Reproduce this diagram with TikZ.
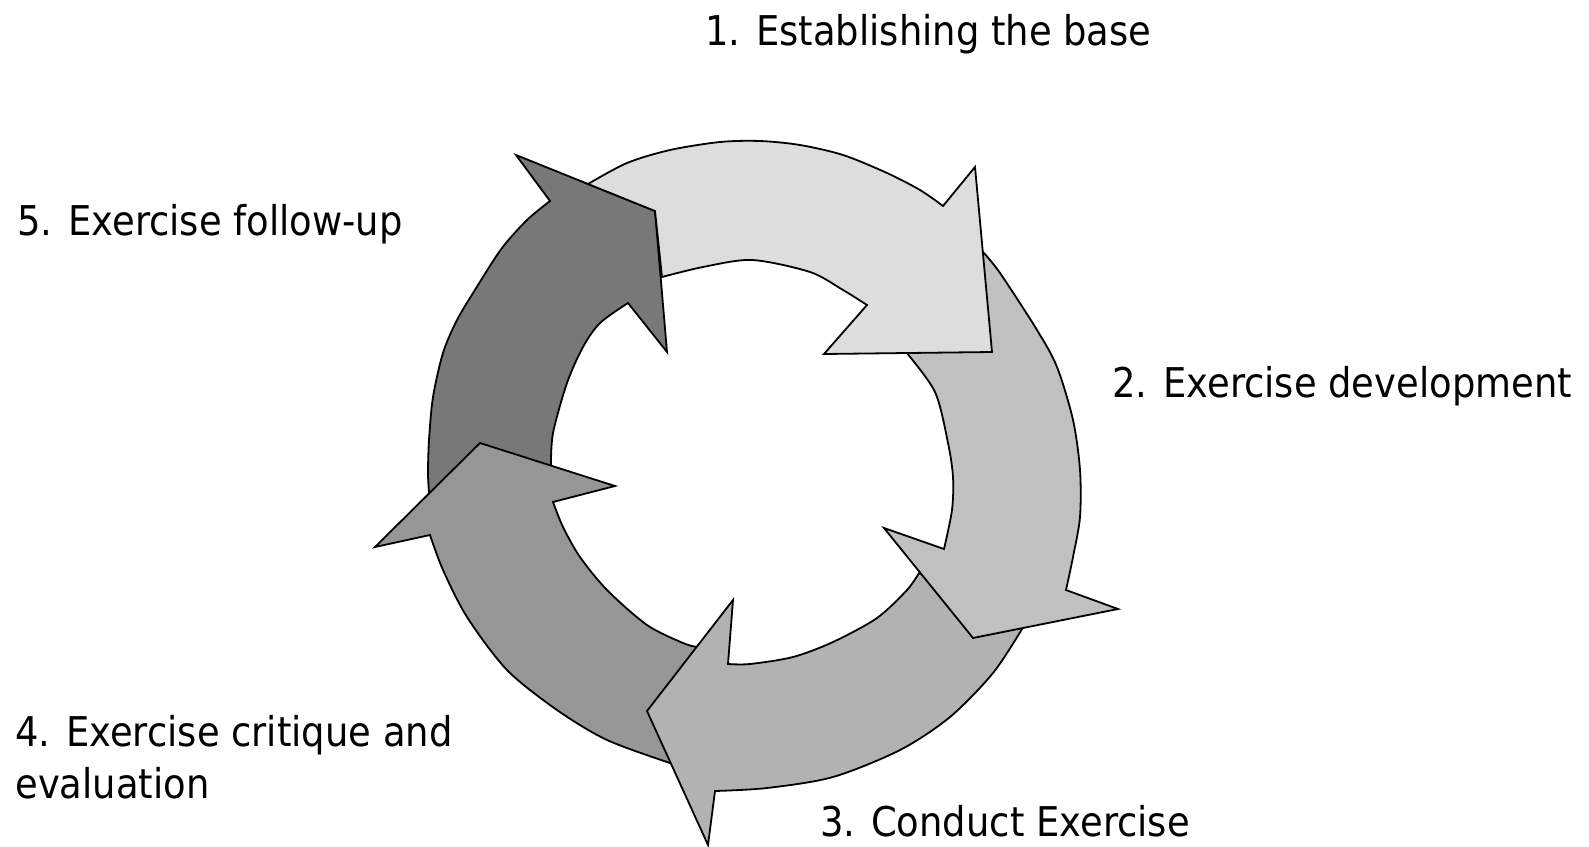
\documentclass[tikz,border=0pt]{standalone}
\usepackage{fontspec}
\setmainfont{DejaVu Sans}[FakeStretch=0.9]
\definecolor{cA}{HTML}{DDDDDD}
\definecolor{cB}{HTML}{C0C0C0}
\definecolor{cC}{HTML}{B2B2B2}
\definecolor{cD}{HTML}{969696}
\definecolor{cE}{HTML}{787878}
\tikzset{
  arrowpart/.style={draw=black, line width=0.9pt, line join=miter},
  steplabel/.style={inner sep=0pt, anchor=base west, font=\fontsize{20.5pt}{26pt}\selectfont}
}
\begin{document}
\begin{tikzpicture}[x=0.5pt,y=-0.5pt]
\useasboundingbox[fill=white] (0,0) rectangle (1589,846);
% arrow 5
\path[arrowpart, fill=cE] plot[smooth] coordinates {(429,492) (428,473) (429,440) (433,397) (443,353) (457,320) (478,285) (502,248) (527,220) (550,201)}
  -- (516,155) -- (655,211) -- (667,352) -- (628,303)
  -- plot[smooth] coordinates {(628,303) (600,323) (583,347) (567,383) (553,433) (551,465)} -- cycle;
% arrow 4
\path[arrowpart, fill=cD] plot[smooth] coordinates {(670,763) (607,740) (557,710) (507,670) (467,617) (443,570) (430,535)}
  -- (375,547) -- (480,443) -- (615,486) -- (553,502)
  -- plot[smooth] coordinates {(553,502) (563,527) (580,557) (607,590) (647,625) (683,643) (697,647)} -- cycle;
% arrow 3
\path[arrowpart, fill=cC] plot[smooth] coordinates {(1022,629) (993,673) (950,717) (900,750) (833,777) (767,788) (715,791)}
  -- (708,845) -- (647,711) -- (733,600) -- (728,664)
  -- plot[smooth] coordinates {(728,664) (750,664) (793,657) (833,642) (877,618) (907,590) (919,573)} -- cycle;
% arrow 2
\path[arrowpart, fill=cB] plot[smooth] coordinates {(983,252) (1000,273) (1037,330) (1057,367) (1073,420) (1080,470) (1080,517) (1073,557) (1066,590)}
  -- (1118,609) -- (973,638) -- (884,528) -- (944,549)
  -- plot[smooth] coordinates {(944,549) (952,510) (953,477) (948,443) (935,392) (906,352)} -- cycle;
% arrow 1
\path[arrowpart, fill=cA] plot[smooth] coordinates {(588,184) (627,163) (670,150) (720,142) (760,141) (800,145) (843,155) (887,173) (920,190) (943,206)}
  -- (975,167) -- (992,352) -- (824,354) -- (867,305)
  -- plot[smooth] coordinates {(867,305) (843,290) (810,272) (752,260) (703,267) (662,277)}
  -- (655,211) -- cycle;
% labels
\node[steplabel] (l1) at (705,45) {1. Establishing the base};
\node[steplabel] (l2) at (1112,397) {2. Exercise development};
\node[steplabel] (l3) at (820,836) {3. Conduct Exercise};
\node[steplabel, align=left] (l4) at (15,798) {4. Exercise critique and\\evaluation};
\node[steplabel] (l5) at (17,235) {5. Exercise follow-up};
\end{tikzpicture}
\end{document}
